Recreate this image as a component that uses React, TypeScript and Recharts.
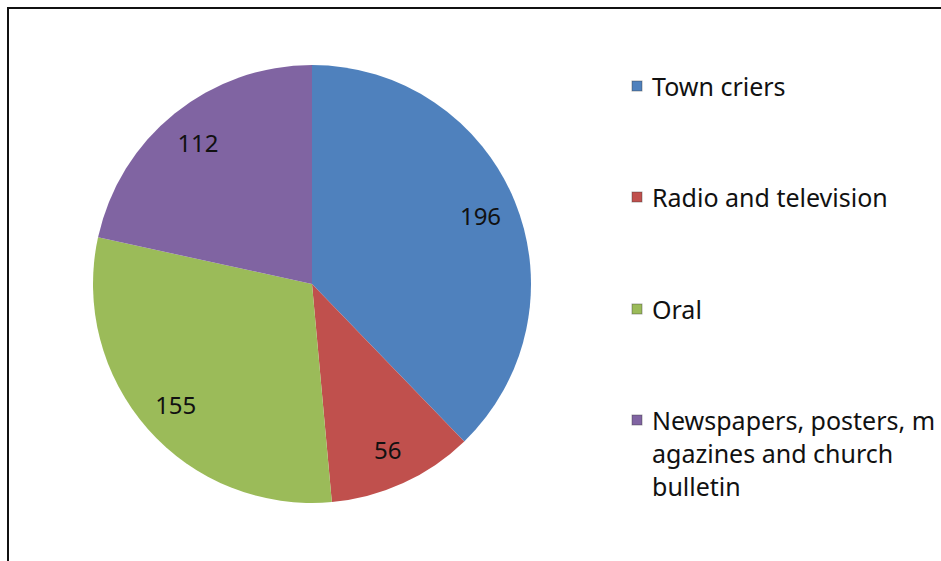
import React from "react";
import { PieChart, Pie, Cell } from "recharts";

const categories = ["Town criers", "Radio and television", "Oral", "Newspapers, posters, magazines and church bulletin"];
const values = [196, 56, 155, 112];
const colors = ["#4F81BD", "#C0504D", "#9BBB59", "#8064A2"];
const legendLines = [["Town criers"], ["Radio and television"], ["Oral"], ["Newspapers, posters, m", "agazines and church", "bulletin"]];
const legendY = [86, 197, 309, 420];

const data = categories.map((name, i) => ({ name, value: values[i] }));

const FONT = "'Noto Sans', 'Open Sans', sans-serif";
const RAD = Math.PI / 180;

const renderLabel = (props: any) => {
  const { cx, cy, midAngle, outerRadius, value } = props;
  const r = outerRadius * 0.83;
  const x = cx + r * Math.cos(-midAngle * RAD);
  const y = cy + r * Math.sin(-midAngle * RAD);
  return (
    <text x={x} y={y} textAnchor="middle" dominantBaseline="central" fontFamily={FONT} fontSize={24} fill="#111">
      {value}
    </text>
  );
};

export default function App() {
  return (
    <div style={{ position: "absolute", left: 0, top: 0, width: 941, height: 561, background: "#fff", overflow: "hidden" }}>
      <div style={{ position: "absolute", left: 7, top: 7, width: 960, height: 600, border: "2px solid #111", boxSizing: "border-box" }} />
      <div style={{ position: "absolute", left: 0, top: 0 }}>
        <PieChart width={941} height={561} margin={{ top: 0, right: 0, bottom: 0, left: 0 }}>
          <Pie
            data={data}
            dataKey="value"
            nameKey="name"
            cx={312}
            cy={284}
            outerRadius={219}
            startAngle={90}
            endAngle={-270}
            stroke="none"
            label={renderLabel}
            labelLine={false}
            isAnimationActive={false}
          >
            {data.map((d, i) => (
              <Cell key={d.name} fill={colors[i]} />
            ))}
          </Pie>
          {legendLines.map((lines, i) => (
            <g key={i}>
              <rect x={632} y={legendY[i] - 5} width={10} height={10} fill={colors[i]} stroke="#333" strokeOpacity={0.4} />
              {lines.map((ln, j) => (
                <text key={j} x={652} y={legendY[i] + j * 33} dominantBaseline="central" fontFamily={FONT} fontSize={25} fill="#111">
                  {ln}
                </text>
              ))}
            </g>
          ))}
        </PieChart>
      </div>
    </div>
  );
}
